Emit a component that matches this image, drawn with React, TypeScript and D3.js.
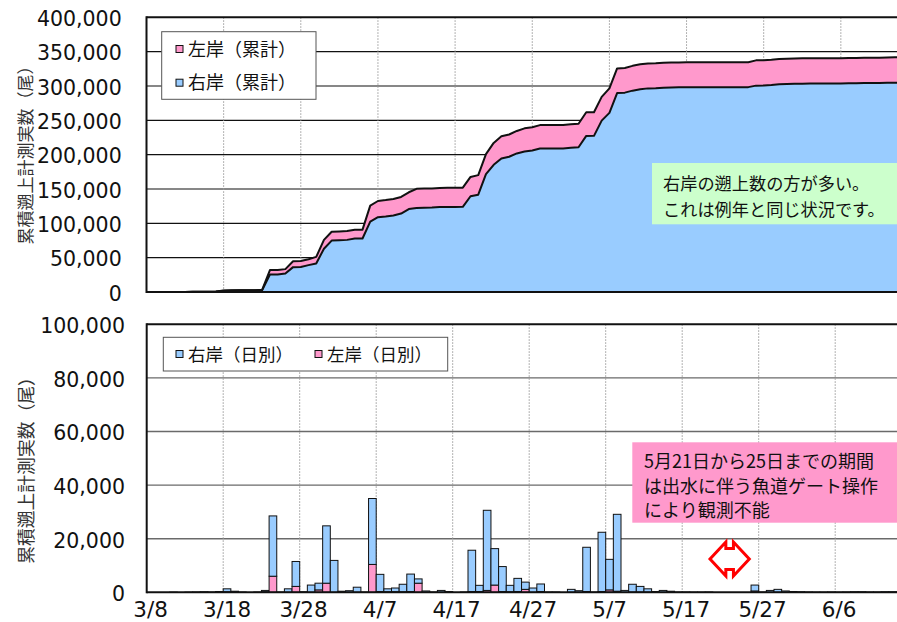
import React from 'react';
import * as d3 from 'd3';

// Daily counts, index 0 = 3/8, one entry per day (3/8 .. 6/15)
const rightDaily = [
  0, 0, 0, 50, 0, 50, 100, 200, 100, 300,
  1100, 400, 100, 0, 100, 500, 22500, 100, 1300, 9300,
  200, 2700, 2500, 21400, 11900, 400, 600, 1900, 100, 24600,
  6400, 1100, 1400, 2800, 6500, 1600, 500, 100, 700, 300,
  0, 100, 15400, 2300, 29900, 13600, 9300, 2400, 4900, 2700,
  1600, 2800, 100, 100, 0, 1100, 600, 16500, 100, 22100,
  11400, 28700, 700, 2900, 2100, 1200, 300, 700, 400, 100,
  100, 50, 50, 100, 0, 0, 0, 0, 0, 2200,
  100, 700, 1100, 500, 300, 200, 100, 50, 50, 100,
  50, 100, 200, 200, 100, 100, 200, 200, 100, 100,
];
const leftDaily = [
  0, 0, 0, 0, 0, 0, 0, 0, 0, 0,
  200, 0, 0, 0, 0, 200, 6000, 0, 0, 2200,
  0, 0, 900, 3400, 0, 0, 0, 0, 0, 10400,
  300, 200, 200, 200, 300, 3400, 0, 0, 0, 0,
  0, 0, 300, 300, 700, 2700, 300, 200, 300, 1100,
  0, 300, 0, 0, 0, 0, 0, 300, 0, 300,
  900, 400, 0, 100, 100, 100, 0, 0, 0, 0,
  0, 0, 0, 0, 0, 0, 0, 0, 0, 500,
  0, 0, 0, 0, 0, 0, 0, 0, 0, 0,
  0, 0, 0, 0, 0, 0, 0, 0, 0, 0,
];
const xTickLabels = ['3/8', '3/18', '3/28', '4/7', '4/17', '4/27', '5/7', '5/17', '5/27', '6/6'];
const xTickIndex = [0, 10, 20, 30, 40, 50, 60, 70, 80, 90];
const yTicksTop = [0, 50000, 100000, 150000, 200000, 250000, 300000, 350000, 400000];
const yTicksBottom = [0, 20000, 40000, 60000, 80000, 100000];
const legendTop = ['左岸（累計）', '右岸（累計）'];
const legendBottom = ['右岸（日別）', '左岸（日別）'];
const yTitle = '累積遡上計測実数（尾）';
const noteTop = ['右岸の遡上数の方が多い。', 'これは例年と同じ状況です。'];
const noteBottom = ['5月21日から25日までの期間', 'は出水に伴う魚道ゲート操作', 'により観測不能'];
const gapStart = 74; // 5/21
const gapEnd = 78; // 5/25

const BLUE = '#99CCFF';
const PINK = '#FF99CC';
const JP = '"Noto Sans CJK JP", "Noto Sans", sans-serif';
const NUM = '"DejaVu Sans", sans-serif';

export default function App() {
  const n = rightDaily.length;
  const idx = d3.range(n);
  const rightCum = d3.cumsum(rightDaily);
  const leftCum = d3.cumsum(leftDaily);
  const totalCum = idx.map((i) => rightCum[i] + leftCum[i]);

  // top chart
  const xT = d3.scaleLinear().domain([0, n - 1]).range([146.5, 146.5 + (n - 1) * 7.715]);
  const yT = d3.scaleLinear().domain([0, 400000]).range([292, 17.3]);
  const areaBlue = d3.area<number>().x((i) => xT(i)).y0(yT(0)).y1((i) => yT(rightCum[i]));
  const areaPink = d3.area<number>().x((i) => xT(i)).y0((i) => yT(rightCum[i])).y1((i) => yT(totalCum[i]));
  const lineBlue = d3.line<number>().x((i) => xT(i)).y((i) => yT(rightCum[i]));
  const lineTotal = d3.line<number>().x((i) => xT(i)).y((i) => yT(totalCum[i]));

  // bottom chart
  const xB = d3.scaleBand<number>().domain(idx).range([146.7, 146.7 + n * 7.65]).padding(0);
  const yB = d3.scaleLinear().domain([0, 100000]).range([592.3, 324.3]);
  const bw = xB.bandwidth();

  const fmt = d3.format(',');
  const W = 897;

  // double arrow spanning the unobserved days
  const ax0 = xB(gapStart)! - 2.8;
  const ax1 = xB(gapEnd)! + bw * 0.77;
  const acx = (ax0 + ax1) / 2;
  const acy = 559;
  const ah = 17; // half head height
  const as = 10.5; // half shaft height
  const nw = 3.8; // half shaft length
  const arrow = [
    [ax0, acy], [acx - nw, acy - ah], [acx - nw, acy - as], [acx + nw, acy - as], [acx + nw, acy - ah],
    [ax1, acy], [acx + nw, acy + ah], [acx + nw, acy + as], [acx - nw, acy + as], [acx - nw, acy + ah],
  ];

  return (
    <svg width={W} height={622} style={{ position: 'absolute', left: 0, top: 0, background: '#fff' }}>
      <rect x={0} y={0} width={W} height={622} fill="#fff" />
      {/* ===== TOP CHART ===== */}
      {yTicksTop.filter((v) => v > 0 && v < 400000).map((v) => (
        <line key={'hgT' + v} x1={146.5} x2={W} y1={yT(v)} y2={yT(v)} stroke="#111" strokeWidth={1.2} />
      ))}
      {xTickIndex.filter((i) => i > 0).map((i) => (
        <line key={'vgT' + i} x1={xT(i)} x2={xT(i)} y1={yT(400000)} y2={yT(0)} stroke="#9a9a9a" strokeWidth={1} strokeDasharray="1.5,1.5" />
      ))}
      <path d={areaBlue(idx)!} fill={BLUE} />
      <path d={areaPink(idx)!} fill={PINK} />
      <path d={lineBlue(idx)!} fill="none" stroke="#111" strokeWidth={2} strokeLinejoin="round" />
      <path d={lineTotal(idx)!} fill="none" stroke="#111" strokeWidth={2} strokeLinejoin="round" />
      <line x1={146.5} x2={W} y1={yT(400000)} y2={yT(400000)} stroke="#111" strokeWidth={2} />
      <line x1={146.5} x2={W} y1={yT(0)} y2={yT(0)} stroke="#111" strokeWidth={2} />
      <line x1={146.5} x2={146.5} y1={yT(400000) - 1} y2={yT(0) + 1} stroke="#111" strokeWidth={2} />
      {yTicksTop.map((v) => (
        <text key={'ytT' + v} x={121.7} y={yT(v) + 8.8} textAnchor="end" fontFamily={NUM} fontSize={20.5} fill="#111">{fmt(v)}</text>
      ))}
      <text transform={`translate(32,151) rotate(-90)`} textAnchor="middle" fontFamily={JP} fontSize={17} fill="#333">{yTitle}</text>
      {/* legend top */}
      <rect x={161.7} y={31.7} width={154.3} height={67.6} fill="#fff" stroke="#555" strokeWidth={1} />
      <rect x={176} y={45.5} width={7} height={7} fill={PINK} stroke="#111" strokeWidth={1} />
      <text x={188} y={55.5} fontFamily={JP} fontSize={18} fill="#111">{legendTop[0]}</text>
      <rect x={176} y={79.2} width={7} height={7} fill={BLUE} stroke="#111" strokeWidth={1} />
      <text x={188} y={89.2} fontFamily={JP} fontSize={18} fill="#111">{legendTop[1]}</text>
      {/* note top */}
      <rect x={652} y={163} width={W - 652} height={61.3} fill="#CCFFCC" />
      {noteTop.map((t, k) => (
        <text key={'nt' + k} x={663} y={189.5 + k * 26} fontFamily={JP} fontSize={17.2} fill="#111">{t}</text>
      ))}

      {/* ===== BOTTOM CHART ===== */}
      {yTicksBottom.filter((v) => v > 0 && v < 100000).map((v) => (
        <line key={'hgB' + v} x1={146.7} x2={W} y1={yB(v)} y2={yB(v)} stroke="#6a6a6a" strokeWidth={1.4} />
      ))}
      {xTickIndex.filter((i) => i > 0).map((i) => (
        <line key={'vgB' + i} x1={xB(i)!} x2={xB(i)!} y1={yB(100000)} y2={yB(0)} stroke="#9a9a9a" strokeWidth={1} strokeDasharray="1.5,1.5" />
      ))}
      {idx.map((i) => {
        const l = leftDaily[i];
        const r = rightDaily[i];
        if (l + r <= 0) return null;
        const x = xB(i)!;
        return (
          <g key={'bar' + i}>
            {l > 0 && (
              <rect x={x} y={yB(l)} width={bw} height={yB(0) - yB(l)} fill={PINK} stroke="#111" strokeWidth={1} />
            )}
            {r > 0 && (
              <rect x={x} y={yB(l + r)} width={bw} height={yB(l) - yB(l + r)} fill={BLUE} stroke="#111" strokeWidth={1} />
            )}
          </g>
        );
      })}
      <line x1={146.7} x2={W} y1={yB(100000)} y2={yB(100000)} stroke="#111" strokeWidth={2} />
      <line x1={146.7} x2={W} y1={yB(0)} y2={yB(0)} stroke="#111" strokeWidth={2} />
      <line x1={146.7} x2={146.7} y1={yB(100000) - 1} y2={yB(0) + 1} stroke="#111" strokeWidth={2} />
      {yTicksBottom.map((v) => (
        <text key={'ytB' + v} x={125} y={yB(v) + 8.8} textAnchor="end" fontFamily={NUM} fontSize={20.5} fill="#111">{fmt(v)}</text>
      ))}
      {xTickIndex.map((i, k) => (
        <text key={'xt' + i} x={xB(i)! + bw / 2} y={617} textAnchor="middle" fontFamily={NUM} fontSize={21.5} fill="#111">{xTickLabels[k]}</text>
      ))}
      <text transform={`translate(33,466) rotate(-90)`} textAnchor="middle" fontFamily={JP} fontSize={17.8} fill="#333">{yTitle}</text>
      {/* legend bottom */}
      <rect x={163.3} y={337.3} width={284.4} height={33.7} fill="#fff" stroke="#555" strokeWidth={1} />
      <rect x={176} y={350.5} width={7} height={7} fill={BLUE} stroke="#111" strokeWidth={1} />
      <text x={188} y={360.5} fontFamily={JP} fontSize={17.5} fill="#111">{legendBottom[0]}</text>
      <rect x={315} y={350.5} width={7} height={7} fill={PINK} stroke="#111" strokeWidth={1} />
      <text x={327} y={360.5} fontFamily={JP} fontSize={17.5} fill="#111">{legendBottom[1]}</text>
      {/* note bottom */}
      <rect x={632.3} y={442.3} width={W - 632.3} height={80.4} fill={PINK} />
      {noteBottom.map((t, k) => (
        <text key={'nb' + k} x={644} y={468 + k * 24.7} fontFamily={JP} fontSize={18} fill="#111">{t}</text>
      ))}
      {/* arrow */}
      <polygon points={arrow.map((p) => p.join(',')).join(' ')} fill="#fff" stroke="#FF0000" strokeWidth={3} strokeLinejoin="miter" />
    </svg>
  );
}
